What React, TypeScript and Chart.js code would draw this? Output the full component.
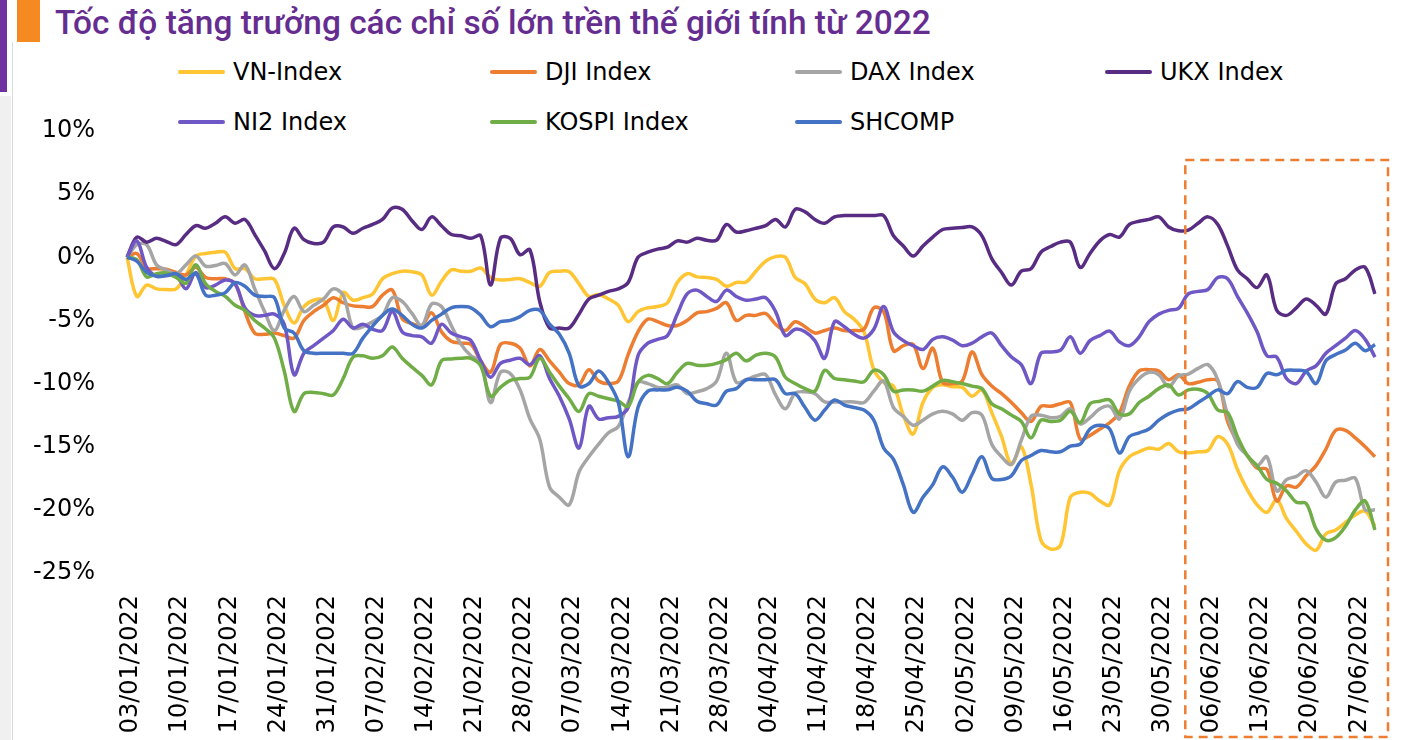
import React, { useEffect, useLayoutEffect, useRef, useState } from "react";
import { Chart, registerables } from "chart.js";

Chart.register(...registerables);

const titleText = "Tốc độ tăng trưởng các chỉ số lớn trền thế giới tính từ 2022";

// Weekly tick labels (Mondays) shown on the x axis
const weekLabels = [
  "03/01/2022", "10/01/2022", "17/01/2022", "24/01/2022", "31/01/2022",
  "07/02/2022", "14/02/2022", "21/02/2022", "28/02/2022", "07/03/2022",
  "14/03/2022", "21/03/2022", "28/03/2022", "04/04/2022", "11/04/2022",
  "18/04/2022", "25/04/2022", "02/05/2022", "09/05/2022", "16/05/2022",
  "23/05/2022", "30/05/2022", "06/06/2022", "13/06/2022", "20/06/2022",
  "27/06/2022",
];
const lastDay = "29/06/2022";
const highlightFrom = "02/06/2022";

// Growth since start of 2022 (%), one value per trading day
const vnIndex = [
  0, -3.1, -2.2, -2.5, -2.55, -2.5, -1.4, 0.1, 0.3, 0.4, 0.4, -0.9, -0.9, -1.7, -1.7, -1.75, -3.8, -5.2, -3.9, -3.4, -3.4, -5.0,
  -2.8, -3.4, -3.2, -2.9, -1.7, -1.3, -1.1, -1.15, -1.4, -3.0, -1.9, -1.0, -1.1, -1.1, -0.85, -1.6, -1.8, -1.75, -1.7, -2.0, -2.3,
  -1.2, -1.1, -1.15, -2.1, -3.1, -2.95, -3.3, -3.8, -5.1, -4.3, -4.0, -3.9, -3.6, -2.0, -1.3, -1.55, -1.6, -1.75, -2.3, -2.0, -1.95,
  -1.1, -0.3, 0.05, 0.0, -1.6, -2.1, -3.3, -3.6, -3.2, -4.3, -4.9, -5.9, -8.9, -9.9, -10.2, -12.5, -14.0, -11.5, -10.3, -10.1,
  -10.25, -10.3, -11.0, -10.5, -12.3, -14.2, -16.4, -15.0, -18.0, -22.4, -23.1, -22.8, -19.0, -18.6, -18.7, -19.3, -19.6, -16.9, -15.8, -15.4, -15.1,
  -15.2, -14.75, -15.4, -15.5, -15.4, -15.3, -14.2, -14.8, -16.8, -18.4, -19.6, -20.2, -19.2, -20.7, -21.7, -22.7, -23.2, -21.9, -21.6, -21.0, -20.4, -20.1, -21.3,
];
const djiIndex = [
  0, 0.3, -0.85, -0.9, -0.95, -1.2, -1.4, -0.8, -1.6, -1.7, -1.7, -2.1, -4.3, -6.0, -6.1, -6.0, -6.2, -6.4, -5.0, -4.3, -3.8, -3.2,
  -3.6, -3.85, -3.9, -3.9, -3.0, -2.6, -4.85, -5.25, -5.4, -4.4, -5.9, -6.65, -6.8, -6.9, -8.2, -9.1, -6.9, -6.8, -7.2, -8.6, -7.3,
  -8.2, -9.1, -10.0, -10.1, -8.9, -9.8, -10.0, -9.8, -7.7, -5.9, -4.9, -5.1, -5.4, -5.4, -5.0, -4.4, -4.3, -4.05, -3.6, -5.0, -4.6,
  -4.6, -4.45, -5.3, -5.8, -5.1, -5.5, -6.0, -5.8, -5.6, -5.8, -5.8, -5.7, -4.0, -4.3, -7.4, -7.0, -6.9, -8.8, -7.2, -9.9,
  -10.0, -9.8, -7.5, -9.3, -10.2, -10.8, -11.5, -12.3, -13.0, -11.8, -11.8, -11.6, -11.5, -14.4, -14.1, -13.6, -13.1, -12.3, -10.2, -9.0, -8.9,
  -9.0, -9.7, -9.3, -10.0, -9.9, -9.7, -9.8, -13.0, -14.6, -15.7, -16.7, -16.8, -19.3, -18.1, -18.2, -17.3, -16.5, -15.2, -13.7, -13.7, -14.3, -15.0, -15.8,
];
const daxIndex = [
  0, 1.0, 1.0, -0.6, -1.0, -1.3, -0.6, 0.1, -0.7, -0.65, -0.5, -1.4, -0.6, -2.5, -4.3, -5.8, -4.2, -3.1, -4.3, -3.8, -3.3, -2.5,
  -3.0, -5.6, -5.5, -5.1, -4.6, -3.2, -3.5, -4.45, -5.4, -3.7, -3.9, -5.4, -6.9, -7.8, -8.3, -11.5, -9.1, -9.2, -10.5, -12.8, -14.4,
  -18.2, -19.0, -19.6, -17.0, -15.8, -14.8, -13.9, -13.4, -11.5, -9.9, -10.0, -10.3, -10.3, -10.1, -10.8, -10.65, -10.4, -9.8, -7.6, -9.9, -9.7,
  -9.4, -9.3, -10.9, -12.0, -10.75, -10.65, -10.8, -11.45, -11.45, -11.45, -11.45, -11.5, -10.6, -9.8, -11.9, -12.6, -13.3, -12.9, -12.4, -12.2,
  -12.4, -12.9, -12.3, -12.5, -14.8, -15.8, -16.4, -14.5, -12.6, -12.5, -12.7, -12.6, -12.0, -13.2, -12.7, -12.0, -11.8, -12.8, -10.6, -9.6, -9.1,
  -9.3, -10.25, -9.4, -9.25, -8.8, -8.5, -9.7, -12.5, -14.8, -15.7, -16.5, -15.8, -18.5, -17.6, -17.35, -16.9, -17.8, -19.0, -17.8, -17.65, -17.5, -20.0, -20.0,
];
const ukxIndex = [
  0, 1.6, 1.2, 1.5, 1.25, 1.0, 1.8, 2.5, 2.3, 2.7, 3.2, 2.7, 3.0, 1.8, 0.5, -0.9, 0.3, 2.3, 1.4, 1.1, 1.2, 2.4,
  2.4, 1.9, 2.3, 2.6, 3.0, 3.9, 3.8, 2.9, 2.2, 3.2, 2.5, 1.8, 1.7, 1.5, 1.7, -2.2, 1.5, 1.5, 0.2, 0.6, -3.5,
  -5.6, -5.6, -5.6, -4.5, -3.3, -3.0, -2.7, -2.5, -2.0, 0.0, 0.4, 0.65, 0.8, 1.3, 1.2, 1.5, 1.35, 1.35, 2.6, 2.0, 2.1,
  2.3, 2.5, 3.0, 2.4, 3.8, 3.6, 3.0, 2.7, 3.2, 3.3, 3.3, 3.3, 3.3, 3.3, 1.7, 0.9, 0.1, 0.9, 1.6, 2.2,
  2.3, 2.35, 2.4, 1.7, -0.1, -1.2, -2.2, -1.1, -0.9, 0.4, 0.85, 1.2, 1.2, -0.8, 0.3, 1.3, 1.8, 1.6, 2.6, 2.85, 3.0,
  3.2, 2.4, 2.1, 2.15, 2.7, 3.2, 2.6, 0.9, -1.0, -1.7, -2.4, -1.4, -4.2, -4.6, -4.0, -3.3, -3.8, -4.5, -2.1, -1.7, -1.0, -0.8, -2.9,
];
const ni2Index = [
  0, 1.3, -0.8, -1.5, -1.45, -1.4, -2.5, -1.2, -2.4, -2.2, -1.8, -2.1, -4.0, -4.6, -4.6, -4.5, -5.3, -9.3, -7.6, -7.0, -6.4, -5.8,
  -4.9, -5.6, -5.3, -5.7, -5.8, -4.3, -5.9, -6.2, -6.3, -6.8, -5.3, -6.0, -6.3, -6.6, -8.2, -9.5, -8.4, -8.15, -8.0, -8.5, -7.8,
  -9.6, -11.0, -12.8, -15.1, -11.8, -12.8, -12.7, -12.6, -11.9, -7.8, -6.8, -6.5, -6.2, -4.5, -2.9, -2.6, -3.1, -3.5, -2.6, -3.1, -3.4,
  -3.3, -3.2, -4.3, -6.2, -5.7, -5.9, -6.6, -8.0, -5.1, -5.5, -6.1, -6.4, -5.7, -3.9, -5.9, -6.6, -7.0, -7.3, -6.5, -6.3,
  -6.55, -7.0, -6.8, -6.3, -6.0, -7.0, -7.9, -8.5, -10.0, -7.6, -7.5, -7.35, -6.3, -7.6, -6.6, -6.2, -5.85, -6.7, -7.0, -6.3, -5.1,
  -4.5, -4.2, -4.05, -2.9, -2.7, -2.55, -1.6, -1.7, -3.1, -4.4, -5.9, -7.8, -7.9, -9.6, -10.0, -9.0, -8.6, -7.6, -7.0, -6.4, -5.8, -6.5, -7.9,
];
const kospiIndex = [
  0, -0.2, -1.55, -1.3, -1.25, -1.6, -2.05, -0.6, -2.1, -2.7, -3.1, -3.8, -4.2, -5.0, -5.6, -6.4, -9.0, -12.2, -10.8, -10.7, -10.8, -10.9,
  -9.6, -7.9, -7.8, -8.0, -7.8, -7.1, -8.0, -8.7, -9.35, -10.1, -8.2, -8.05, -8.0, -8.0, -8.6, -11.0, -10.3, -9.75, -9.6, -9.5, -8.0,
  -9.1, -10.2, -11.2, -12.2, -10.8, -11.0, -11.2, -11.4, -11.8, -9.9, -9.35, -9.6, -10.0, -9.1, -8.4, -8.55, -8.55, -8.4, -8.1, -7.6, -8.2,
  -7.75, -7.6, -7.9, -9.5, -10.0, -10.4, -10.6, -8.95, -9.6, -9.7, -9.8, -9.85, -8.95, -9.3, -10.6, -10.5, -10.5, -10.6, -10.2, -9.75,
  -9.85, -10.0, -10.2, -10.4, -11.6, -12.0, -12.5, -13.0, -14.3, -12.9, -13.0, -12.9, -12.2, -13.1, -11.6, -11.4, -11.3, -12.4, -12.4, -11.5, -11.0,
  -10.4, -10.1, -10.9, -10.5, -10.45, -10.8, -12.1, -12.3, -14.2, -15.7, -16.5, -17.6, -17.9, -18.5, -19.4, -19.5, -21.5, -22.4, -22.2, -21.3, -20.0, -19.3, -21.6,
];
const shcomp = [
  0, -0.3, -1.2, -1.5, -1.45, -1.3, -1.75, -1.3, -3.0, -3.0, -2.8, -2.0, -2.3, -3.0, -3.1, -3.2, -5.6, -6.0, -7.4, -7.6, -7.6, -7.6,
  -7.6, -7.6, -6.4, -5.45, -4.6, -4.1, -4.6, -5.3, -5.6, -5.0, -4.5, -4.0, -3.9, -4.0, -4.6, -5.5, -5.1, -5.0, -4.7, -4.2, -4.2,
  -5.3, -6.1, -7.6, -10.2, -10.0, -9.0, -9.9, -11.5, -15.8, -11.9, -10.6, -10.5, -10.5, -10.3, -10.6, -11.4, -11.6, -11.7, -10.6, -10.4, -9.7,
  -9.7, -9.7, -9.7, -10.8, -10.8, -11.9, -12.9, -12.1, -11.3, -11.7, -11.9, -12.1, -12.9, -15.1, -16.0, -18.0, -20.2, -19.0, -18.0, -16.6,
  -17.4, -18.6, -17.2, -15.8, -17.5, -17.6, -17.3, -16.1, -15.7, -15.3, -15.4, -15.4, -14.95, -14.8, -13.6, -13.3, -13.6, -15.5, -14.2, -13.9, -13.6,
  -12.9, -12.4, -12.1, -12.0, -11.5, -11.0, -10.5, -10.8, -9.85, -10.3, -10.3, -9.2, -9.3, -8.95, -8.95, -9.05, -10.0, -8.2, -7.7, -7.35, -6.8, -7.4, -6.9,
];

const yTicks = [10, 5, 0, -5, -10, -15, -20, -25];

const seriesList = [
  { label: "VN-Index", data: vnIndex, color: "#FFC533" },
  { label: "DJI Index", data: djiIndex, color: "#ED7D31" },
  { label: "DAX Index", data: daxIndex, color: "#A5A5A5" },
  { label: "UKX Index", data: ukxIndex, color: "#582C83" },
  { label: "NI2 Index", data: ni2Index, color: "#7057C6" },
  { label: "KOSPI Index", data: kospiIndex, color: "#70AD47" },
  { label: "SHCOMP", data: shcomp, color: "#4472C4" },
];

function pad2(n: number) {
  return n < 10 ? "0" + n : "" + n;
}

function buildTradingDays(): string[] {
  const out: string[] = [];
  for (const w of weekLabels) {
    const [d, m, y] = w.split("/").map(Number);
    for (let j = 0; j < 5; j++) {
      const dt = new Date(Date.UTC(y, m - 1, d + j));
      const s = `${pad2(dt.getUTCDate())}/${pad2(dt.getUTCMonth() + 1)}/${dt.getUTCFullYear()}`;
      out.push(s);
      if (s === lastDay) return out;
    }
  }
  return out;
}

const tradingDays = buildTradingDays();

const AXIS_FONT = '"DejaVu Sans", Verdana, sans-serif';

const highlightPlugin = {
  id: "highlightBox",
  afterDraw(chart: any) {
    const { ctx, chartArea, scales } = chart;
    const idx = tradingDays.indexOf(highlightFrom);
    const left = scales.x.getPixelForValue(idx) - 3;
    const right = chartArea.right + 13;
    const top = scales.y.getPixelForValue(7.7);
    const bottom = chart.height - 3;
    ctx.save();
    ctx.strokeStyle = "#ED7D31";
    ctx.lineWidth = 2.5;
    ctx.setLineDash([9, 6]);
    ctx.strokeRect(left, top, right - left, bottom - top);
    ctx.restore();
  },
};

function ChartCanvas() {
  const ref = useRef<HTMLCanvasElement>(null);
  useEffect(() => {
    if (!ref.current) return;
    const chart = new Chart(ref.current, {
      type: "line",
      data: {
        labels: tradingDays,
        datasets: seriesList.map((s, i) => ({
          label: s.label,
          data: s.data,
          borderColor: s.color,
          backgroundColor: s.color,
          borderWidth: 3.5,
          pointRadius: 0,
          tension: 0.35,
          fill: false,
          order: seriesList.length - i,
        })),
      },
      options: {
        responsive: false,
        animation: false,
        layout: { padding: { left: 0, right: 28, top: 131, bottom: 0 } },
        plugins: { legend: { display: false }, tooltip: { enabled: false }, title: { display: false } },
        scales: {
          x: {
            type: "category",
            offset: false,
            grid: { display: false, drawTicks: false },
            border: { display: false },
            ticks: {
              autoSkip: false,
              maxRotation: 90,
              minRotation: 90,
              padding: 22,
              labelOffset: 4,
              color: "#000",
              font: { family: AXIS_FONT, size: 24 },
              callback: (_v: any, i: number) => (weekLabels.includes(tradingDays[i]) ? tradingDays[i] : ""),
            },
            afterFit: (scale: any) => {
              scale.height = 167;
              scale.paddingLeft = 0;
              scale.paddingRight = 0;
            },
          },
          y: {
            min: -25,
            max: 10,
            grid: { display: false, drawTicks: false },
            border: { display: false },
            afterBuildTicks: (scale: any) => {
              scale.ticks = yTicks.map((v) => ({ value: v }));
            },
            ticks: {
              padding: 32,
              color: "#000",
              font: { family: AXIS_FONT, size: 24 },
              callback: (v: any) => `${v}%`,
            },
            afterFit: (scale: any) => {
              scale.width = 127;
              scale.paddingTop = 0;
              scale.paddingBottom = 0;
            },
          },
        },
      },
      plugins: [highlightPlugin],
    });
    return () => chart.destroy();
  }, []);
  return (
    <canvas
      ref={ref}
      width={1403}
      height={740}
      style={{ position: "absolute", left: 0, top: 0, width: 1403, height: 740 }}
    />
  );
}

function Title() {
  const ref = useRef<HTMLSpanElement>(null);
  const [sx, setSx] = useState(1);
  useLayoutEffect(() => {
    if (ref.current) {
      const w = ref.current.offsetWidth;
      if (w > 0) setSx(876 / w);
    }
  }, []);
  return (
    <div style={{ position: "absolute", left: 55, top: 3, whiteSpace: "nowrap" }}>
      <span
        ref={ref}
        style={{
          display: "inline-block",
          transform: `scaleX(${sx})`,
          transformOrigin: "left top",
          fontFamily: 'Roboto, "DejaVu Sans", sans-serif',
          fontWeight: 500,
          fontSize: 33,
          lineHeight: "40px",
          color: "#662D91",
        }}
      >
        {titleText}
      </span>
    </div>
  );
}

const legendCols = [178, 490, 795, 1105];
const legendRows = [72, 122];

function Legend() {
  return (
    <>
      {seriesList.map((s, i) => {
        const col = i < 4 ? i : i - 4;
        const row = i < 4 ? 0 : 1;
        return (
          <div
            key={s.label}
            style={{
              position: "absolute",
              left: legendCols[col],
              top: legendRows[row] - 16,
              height: 32,
              display: "flex",
              alignItems: "center",
              whiteSpace: "nowrap",
            }}
          >
            <div style={{ width: 47, height: 4, borderRadius: 2, background: s.color, marginRight: 8 }} />
            <span style={{ fontFamily: AXIS_FONT, fontSize: 24, color: "#000" }}>{s.label}</span>
          </div>
        );
      })}
    </>
  );
}

export default function App() {
  return (
    <div style={{ position: "fixed", left: 0, top: 0, width: 1403, height: 740, background: "#fff", overflow: "hidden" }}>
      <div style={{ position: "absolute", left: 0, top: 0, width: 7, height: 92, background: "#7030A0" }} />
      <div style={{ position: "absolute", left: 17, top: 0, width: 23, height: 42, background: "#F48A21" }} />
      <div style={{ position: "absolute", left: 0, top: 96, width: 11, height: 644, background: "#F0F0F0" }} />
      <div style={{ position: "absolute", left: 12, top: 42, width: 1, height: 698, background: "#D9D9D9" }} />
      <Title />
      <Legend />
      <ChartCanvas />
    </div>
  );
}
